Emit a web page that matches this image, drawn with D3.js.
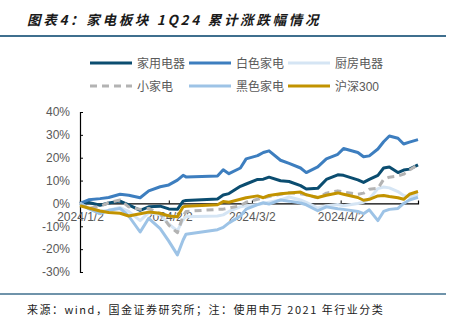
<!DOCTYPE html>
<html>
<head>
<meta charset="utf-8">
<script src="https://cdn.jsdelivr.net/npm/d3@7"></script>
<style>
  body { margin: 0; background: #fff; }
  svg { display: block; font-family: "Liberation Sans", Arial, "Noto Sans CJK SC", sans-serif; }
</style>
</head>
<body>
<svg id="chart" width="463" height="324"></svg>
<script>
// trading dates sampled through the period
var dates = ["2024-01-02","2024-01-05","2024-01-09","2024-01-12","2024-01-16","2024-01-19",
  "2024-01-23","2024-01-26","2024-01-30","2024-02-02","2024-02-05","2024-02-07","2024-02-08",
  "2024-02-19","2024-02-21","2024-02-23","2024-02-27","2024-02-29","2024-03-04","2024-03-06",
  "2024-03-08","2024-03-12","2024-03-15","2024-03-19","2024-03-21","2024-03-25","2024-03-28",
  "2024-04-01","2024-04-03","2024-04-08","2024-04-10","2024-04-12","2024-04-15","2024-04-17",
  "2024-04-19","2024-04-22","2024-04-24","2024-04-26","2024-04-29"];

// cumulative change, %
var jiayong = [0,0.4,-0.8,0.2,1.0,-0.6,-3.0,-1.5,-1.2,-2.4,-2.6,1.0,1.3,
  1.9,3.7,4.3,7.5,8.5,10.5,10.6,11.5,9.9,9.6,7.8,6.3,6.6,10.5,
  12.5,12.3,10.3,9.2,10.5,12.3,15.5,15.9,13.5,14.6,15.0,16.9];
var baise = [0,1.6,2.1,2.6,4.0,3.6,2.5,5.5,7.3,8.1,10.2,12.3,11.6,
  12.0,14.7,13.0,15.5,19.5,20.9,22.3,23.0,18.9,17.5,15.5,13.5,16.0,19.5,
  21.5,24.0,22.3,20.4,20.8,23.8,27.0,29.5,28.5,26.0,26.8,27.9];
var chufang = [0,-2.0,-3.3,-3.0,-1.8,-3.5,-7.5,-4.0,-5.0,-9.0,-12.0,-7.0,-5.8,
  -5.5,-5.0,-3.5,-1.5,-1.0,-0.5,0,0.5,1.5,2.8,1.5,0.5,-2.0,-1.0,
  -0.5,-1.0,0,0.5,2.0,6.5,7.2,6.8,5.2,3.5,2.8,4.0];
var xiaojiadian = [0,-2.2,-1.2,0.3,1.5,-1.5,-2.6,-2.2,-4.5,-9.5,-12.8,-5.5,-3.5,
  -2.6,-2.5,-2.0,-1.0,0.5,1.8,2.5,3.0,4.0,4.7,4.2,3.8,2.5,4.5,
  5.5,5.0,4.0,4.5,6.2,6.6,10.5,11.5,12.0,12.8,14.6,17.0];
var heise = [0,-2.3,-4.5,-3.0,-2.2,-5.5,-12.5,-6.5,-11.0,-16.5,-22.5,-16.0,-13.5,
  -11.5,-10.5,-8.5,-5.5,-2.5,-0.5,0.3,-0.3,1.5,1.0,0.2,-0.6,-3.2,-1.5,
  -2.3,-2.6,-3.5,-4.5,-2.8,-7.5,-3.5,-2.6,-2.2,0,1.5,2.7];
var hs300 = [-1.0,-2.0,-3.3,-4.0,-4.3,-5.5,-4.5,-3.8,-4.3,-5.5,-5.8,-1.5,-1.2,
  -0.6,0.8,0.5,1.8,2.5,3.3,2.5,3.5,4.2,4.6,5.0,3.8,2.6,3.6,
  4.6,4.0,2.6,1.4,1.8,3.3,3.5,3.0,2.5,1.8,4.0,5.2];

var seriesNames = ["家用电器","白色家电","厨房电器","小家电","黑色家电","沪深300"];
var seriesValues = [jiayong, baise, chufang, xiaojiadian, heise, hs300];
var colors = ["#0b4d70","#3d7ebf","#d5e5f4","#b3b3b3","#9dc3e6","#c29300"];
var dashes = [null,null,null,"7,5",null,null];

var yTicks = [40,30,20,10,0,-10,-20,-30];
var xTicks = ["2024-01-02","2024-02-02","2024-03-02","2024-04-02"];

var parse = d3.timeParse("%Y-%m-%d");
var fmt = d3.timeFormat("%Y/%-m/%-d");

var svg = d3.select("#chart");
svg.append("rect").attr("width",463).attr("height",324).attr("fill","#fff");

// header and footer
svg.append("text").attr("x",27).attr("y",25)
  .attr("font-family","'Noto Sans CJK SC', sans-serif")
  .attr("font-size",13.5).attr("font-weight","bold").attr("font-style","italic")
  .attr("letter-spacing",2.7).attr("fill","#1a1a1a")
  .text("图表4：家电板块 1Q24 累计涨跌幅情况");
svg.append("line").attr("x1",0).attr("x2",446).attr("y1",36).attr("y2",36)
  .attr("stroke","#3f6f8e").attr("stroke-width",2);
svg.append("line").attr("x1",0).attr("x2",446).attr("y1",294).attr("y2",294)
  .attr("stroke","#3f6f8e").attr("stroke-width",1.5);
svg.append("text").attr("x",27).attr("y",314)
  .attr("font-family","'Noto Sans CJK SC', sans-serif")
  .attr("font-size",11).attr("letter-spacing",1.5).attr("fill","#222")
  .text("来源：wind，国金证券研究所；注：使用申万 2021 年行业分类");

var x = d3.scaleTime().domain([parse(dates[0]), parse(dates[dates.length-1])]).range([80,418]);
var y = d3.scaleLinear().domain([-30,40]).range([272,112]);

// y axis
var yAxis = svg.append("g").attr("transform","translate(80,0)")
  .call(d3.axisLeft(y).tickValues(yTicks).tickSize(-3).tickPadding(10).tickFormat(function(d){ return d + "%"; }));
yAxis.select(".domain").attr("stroke","#000").attr("stroke-width",1.2);
yAxis.selectAll(".tick line").attr("stroke","#000");
yAxis.selectAll("text").attr("fill","#595959").attr("font-size",12);

// x axis on the zero line
var xAxis = svg.append("g").attr("transform","translate(0," + y(0) + ")")
  .call(d3.axisBottom(x).tickValues(xTicks.map(parse)).tickSize(-3).tickPadding(9).tickFormat(fmt));
xAxis.select(".domain").attr("stroke","#000").attr("stroke-width",1.2);
xAxis.selectAll(".tick line").attr("stroke","#000");
xAxis.selectAll("text").attr("fill","#595959").attr("font-size",12);

var line = d3.line()
  .x(function(d, i){ return x(parse(dates[i])); })
  .y(function(d){ return y(d); });

seriesValues.forEach(function(vals, i){
  svg.append("path").datum(vals)
    .attr("d", line)
    .attr("fill","none")
    .attr("stroke", colors[i])
    .attr("stroke-width", 3)
    .attr("stroke-linejoin","round")
    .attr("stroke-dasharray", dashes[i]);
});

// legend, three per row
var legX = [90, 189, 288];
var legY = [63, 86];
seriesNames.forEach(function(name, i){
  var cx = legX[i % 3], cy = legY[Math.floor(i / 3)];
  svg.append("line").attr("x1",cx).attr("x2",cx + 42).attr("y1",cy).attr("y2",cy)
    .attr("stroke",colors[i]).attr("stroke-width",3)
    .attr("stroke-dasharray", dashes[i]);
  svg.append("text").attr("x",cx + 47).attr("y",cy + 4.5)
    .attr("font-size",12).attr("fill","#595959")
    .text(name);
});
</script>
</body>
</html>
